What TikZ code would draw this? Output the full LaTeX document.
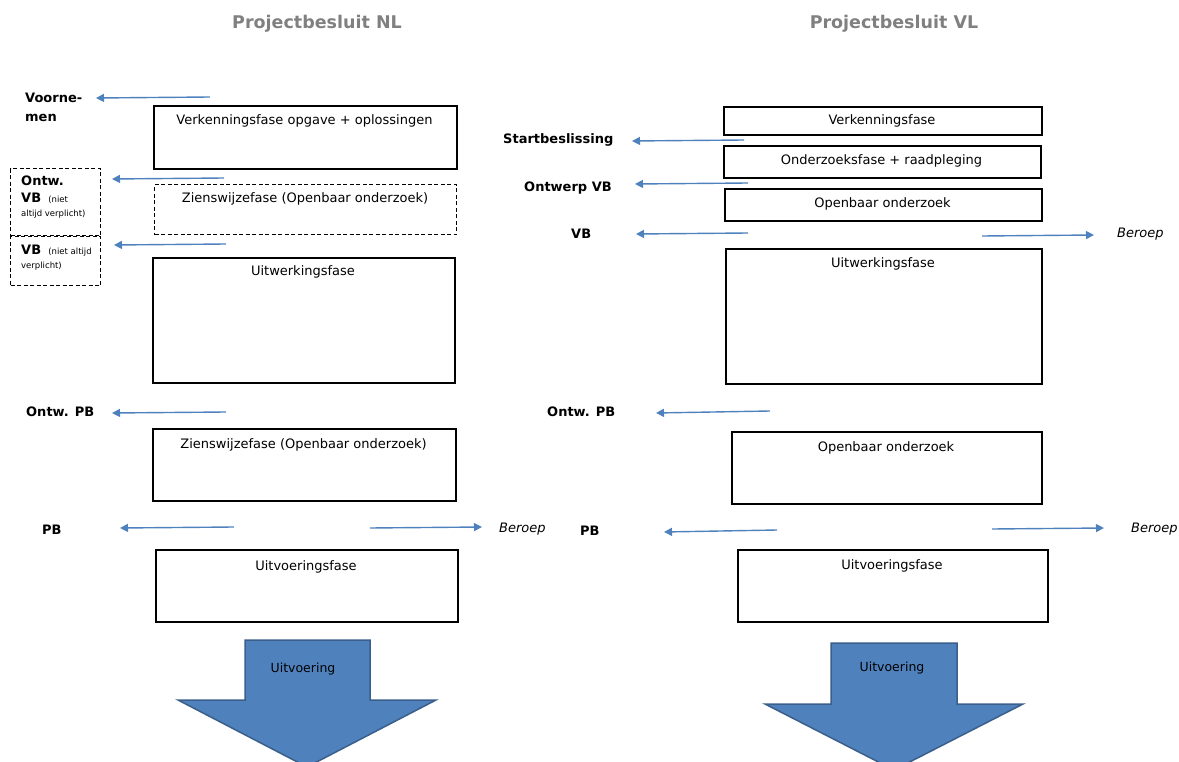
\documentclass[tikz,border=0pt]{standalone}
\usepackage{fontspec}
\setmainfont{DejaVu Sans}
\usetikzlibrary{arrows.meta}
\definecolor{arr}{HTML}{4F81BD}
\definecolor{arrdark}{HTML}{3A5F8B}
\definecolor{ttl}{HTML}{808080}
\begin{document}
\begin{tikzpicture}[x=1pt,y=-1pt,
  box/.style={draw, line width=1.6pt, anchor=north west, inner sep=0pt},
  dbox/.style={box, line width=1.3pt, dash pattern=on 4pt off 2.5pt},
  boxtxt/.style={anchor=base, font=\fontsize{13}{15}\selectfont, inner sep=0pt},
  lbl/.style={anchor=base west, font=\fontsize{13}{15}\selectfont\bfseries, inner sep=0pt},
  ber/.style={anchor=base west, font=\fontsize{13}{15}\selectfont\itshape, inner sep=0pt},
  ttlstyle/.style={anchor=base, font=\fontsize{17.5}{20}\selectfont\bfseries, text=ttl, inner sep=0pt},
  ptr/.style={draw=arr, line width=1.4pt, -{Triangle[length=8pt,width=8pt]}},
  blk/.style={fill=arr, draw=arrdark, line width=1.5pt, line join=miter}]
\useasboundingbox (0,0) rectangle (1179,762);

% titles
\node[ttlstyle] (tnl) at (317,29) {Projectbesluit NL};
\node[ttlstyle] (tvl) at (894,29) {Projectbesluit VL};

% ---------------- left column
\node[box, minimum width=303pt, minimum height=63pt] (l1) at (153,105) {};
\node[boxtxt] (l1t) at (304.5,125) {Verkenningsfase opgave + oplossingen};
\node[dbox, minimum width=302pt, minimum height=50pt] (l2) at (154,184) {};
\node[boxtxt] (l2t) at (305,203) {Zienswijzefase (Openbaar onderzoek)};
\node[box, minimum width=302pt, minimum height=125pt] (l3) at (152,257) {};
\node[boxtxt] (l3t) at (303,276) {Uitwerkingsfase};
\node[box, minimum width=303pt, minimum height=72pt] (l4) at (152,428) {};
\node[boxtxt] (l4t) at (303.5,448) {Zienswijzefase (Openbaar onderzoek)};
\node[box, minimum width=302pt, minimum height=72pt] (l5) at (155,549) {};
\node[boxtxt] (l5t) at (306,570) {Uitvoeringsfase};

% left dashed label boxes
\node[dbox, minimum width=90pt, minimum height=67pt] (ld1) at (10,168) {};
\node[dbox, minimum width=90pt, minimum height=49pt] (ld2) at (10,236) {};

% left labels
\node[lbl] (vn1) at (25,103) {Voorne-};
\node[lbl] (vn2) at (25,122) {men};
\node[lbl] (ovb1) at (21,186) {Ontw.};
\node[lbl] (ovb2) at (21,203) {VB {\mdseries\fontsize{8.5}{10}\selectfont\ (niet}};
\node[lbl, font=\fontsize{8.5}{10}\selectfont] (ovb3) at (21,217) {altijd verplicht)};
\node[lbl] (vb1) at (21,255) {VB {\mdseries\fontsize{8.5}{10}\selectfont\ (niet altijd}};
\node[lbl, font=\fontsize{8.5}{10}\selectfont] (vb2) at (21,269) {verplicht)};
\node[lbl] (opb) at (26,416) {Ontw. PB};
\node[lbl] (pb) at (42,534) {PB};
\node[ber] (ber1) at (499,532) {Beroep};

% left arrows
\coordinate (a1s) at (210,97);  \coordinate (a1e) at (96,98);
\coordinate (a2s) at (224,178); \coordinate (a2e) at (112,179);
\coordinate (a3s) at (226,244); \coordinate (a3e) at (114,245);
\coordinate (a4s) at (226,412); \coordinate (a4e) at (112,413);
\coordinate (a5s) at (234,527); \coordinate (a5e) at (120,528);
\coordinate (a6s) at (370,528); \coordinate (a6e) at (482,527);
\draw[ptr] (a1s) -- (a1e);
\draw[ptr] (a2s) -- (a2e);
\draw[ptr] (a3s) -- (a3e);
\draw[ptr] (a4s) -- (a4e);
\draw[ptr] (a5s) -- (a5e);
\draw[ptr] (a6s) -- (a6e);

% left block arrow
\draw[blk] (245,640) -- (370,640) -- (370,700) -- (436,700) -- (307,767) -- (178,700) -- (245,700) -- cycle;
\node[boxtxt, font=\fontsize{12.5}{14}\selectfont] (lu) at (303,672) {Uitvoering};

% ---------------- right column
\node[box, minimum width=318pt, minimum height=28pt] (r1) at (723,106) {};
\node[boxtxt] (r1t) at (882,125) {Verkenningsfase};
\node[box, minimum width=317pt, minimum height=32pt] (r2) at (723,145) {};
\node[boxtxt] (r2t) at (881.5,165) {Onderzoeksfase + raadpleging};
\node[box, minimum width=317pt, minimum height=32pt] (r3) at (724,188) {};
\node[boxtxt] (r3t) at (882.5,208) {Openbaar onderzoek};
\node[box, minimum width=316pt, minimum height=135pt] (r4) at (725,248) {};
\node[boxtxt] (r4t) at (883,268) {Uitwerkingsfase};
\node[box, minimum width=310pt, minimum height=72pt] (r5) at (731,431) {};
\node[boxtxt] (r5t) at (886,451) {Openbaar onderzoek};
\node[box, minimum width=310pt, minimum height=72pt] (r6) at (737,549) {};
\node[boxtxt] (r6t) at (892,569) {Uitvoeringsfase};

% right labels
\node[lbl] (sb) at (503,144) {Startbeslissing};
\node[lbl] (ovb) at (524,192) {Ontwerp VB};
\node[lbl] (rvb) at (571,239) {VB};
\node[ber] (ber2) at (1117,238) {Beroep};
\node[lbl] (ropb) at (547,416) {Ontw. PB};
\node[lbl] (rpb) at (580,535) {PB};
\node[ber] (ber3) at (1131,532) {Beroep};

% right arrows
\coordinate (b1s) at (744,140); \coordinate (b1e) at (632,141);
\coordinate (b2s) at (748,183); \coordinate (b2e) at (635,184);
\coordinate (b3s) at (748,233); \coordinate (b3e) at (636,234);
\coordinate (b4s) at (982,236); \coordinate (b4e) at (1094,235);
\coordinate (b5s) at (770,411); \coordinate (b5e) at (656,413);
\coordinate (b6s) at (777,530); \coordinate (b6e) at (664,532);
\coordinate (b7s) at (992,529); \coordinate (b7e) at (1104,528);
\draw[ptr] (b1s) -- (b1e);
\draw[ptr] (b2s) -- (b2e);
\draw[ptr] (b3s) -- (b3e);
\draw[ptr] (b4s) -- (b4e);
\draw[ptr] (b5s) -- (b5e);
\draw[ptr] (b6s) -- (b6e);
\draw[ptr] (b7s) -- (b7e);

% right block arrow
\draw[blk] (831,643) -- (957,643) -- (957,704) -- (1023,704) -- (894,770) -- (765,704) -- (831,704) -- cycle;
\node[boxtxt, font=\fontsize{12.5}{14}\selectfont] (ru) at (892,671) {Uitvoering};
\end{tikzpicture}
\end{document}
